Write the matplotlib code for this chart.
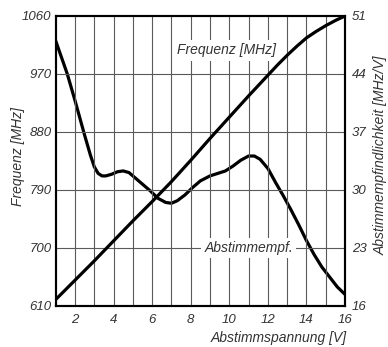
import numpy as np
import matplotlib
matplotlib.use('Agg')
import matplotlib.pyplot as plt

plt.rcParams['font.family'] = ['Liberation Sans', 'DejaVu Sans']
plt.rcParams['font.style'] = 'italic'

# Abstimmspannung [V] -> Frequenz [MHz]
volt_f = [1, 2, 3, 4, 5, 6, 7, 8, 9, 10, 11, 12, 12.5, 13, 13.5, 14, 14.5, 15, 15.5, 16]
freq = [620, 650, 680, 711, 742, 772, 803, 836, 870, 903, 936, 968, 984, 999, 1013,
        1026, 1036, 1045, 1053, 1060]

# Abstimmspannung [V] -> Abstimmempfindlichkeit [MHz/V]
volt_s = [1.0, 1.3, 1.6, 2.0, 2.5, 2.8, 3.0, 3.2, 3.4, 3.6, 3.9, 4.2, 4.5, 4.8, 5.1,
          5.5, 5.9, 6.3, 6.7, 7.0, 7.3, 7.7, 8.1, 8.5, 9.0, 9.4, 9.8, 10.2, 10.6, 11.0,
          11.3, 11.6, 12.0, 12.4, 12.8, 13.2, 13.6, 14.0, 14.4, 14.8, 15.2, 15.6, 16.0]
sens = [48.0, 46.0, 44.0, 40.8, 36.6, 34.2, 32.8, 32.0, 31.7, 31.7, 31.9, 32.2, 32.3,
        32.1, 31.5, 30.7, 29.9, 29.0, 28.5, 28.4, 28.7, 29.4, 30.3, 31.1, 31.7, 32.0,
        32.3, 32.9, 33.6, 34.1, 34.1, 33.7, 32.6, 30.9, 29.3, 27.6, 25.8, 23.9, 22.2,
        20.7, 19.5, 18.3, 17.4]

xticks = [2, 4, 6, 8, 10, 12, 14, 16]
fticks = [610, 700, 790, 880, 970, 1060]
sticks = [16, 23, 30, 37, 44, 51]

txtcol = '#333333'
gridcol = '#5a5a5a'

fig = plt.figure(figsize=(3.88, 3.47), dpi=100)
ax = fig.add_axes([0.1436, 0.1182, 0.7456, 0.8357])
ax2 = ax.twinx()

ax.set_xlim(1, 16)
ax.set_ylim(610, 1060)
ax2.set_ylim(16, 51)

# grid: every volt, every tick level
for v in range(2, 16):
    ax.axvline(v, color=gridcol, lw=0.8, zorder=1)
for f in fticks[1:-1]:
    ax.axhline(f, color=gridcol, lw=0.8, zorder=1)

ax.plot(volt_f, freq, color='black', lw=2.3, solid_capstyle='round',
        solid_joinstyle='round', zorder=4)
ax2.plot(volt_s, sens, color='black', lw=2.3, solid_capstyle='round',
         solid_joinstyle='round', zorder=4)

ax.set_xticks(xticks)
ax.set_yticks(fticks)
ax2.set_yticks(sticks)
ax.tick_params(axis='x', length=0, pad=6, labelsize=9.5, labelcolor=txtcol)
ax.tick_params(axis='y', length=0, pad=3, labelsize=9.5, labelcolor=txtcol)
ax2.tick_params(axis='y', length=0, pad=5, labelsize=9.5, labelcolor=txtcol)

for a in (ax, ax2):
    for s in a.spines.values():
        s.set_linewidth(1.5)
        s.set_color('black')

box = dict(facecolor='white', edgecolor='none', pad=2.5)
ax.text(9.85, 1007, 'Frequenz [MHz]', ha='center', va='center', fontsize=10,
        color=txtcol, bbox=box, zorder=3)
ax.text(11.0, 700, 'Abstimmempf.', ha='center', va='center', fontsize=10,
        color=txtcol, bbox=box, zorder=3)

ax.text(-0.130, 0.517, 'Frequenz [MHz]', transform=ax.transAxes, rotation=90,
        ha='center', va='center', fontsize=10, color=txtcol)
ax.text(1.124, 0.52, 'Abstimmempfindlichkeit [MHz/V]', transform=ax.transAxes,
        rotation=90, ha='center', va='center', fontsize=10, color=txtcol)
ax.text(1.007, -0.11, 'Abstimmspannung [V]', transform=ax.transAxes,
        ha='right', va='center', fontsize=10, color=txtcol)

ax.set_zorder(ax2.get_zorder() + 1)
ax.patch.set_visible(False)

fig.savefig('out.png', dpi=100)
